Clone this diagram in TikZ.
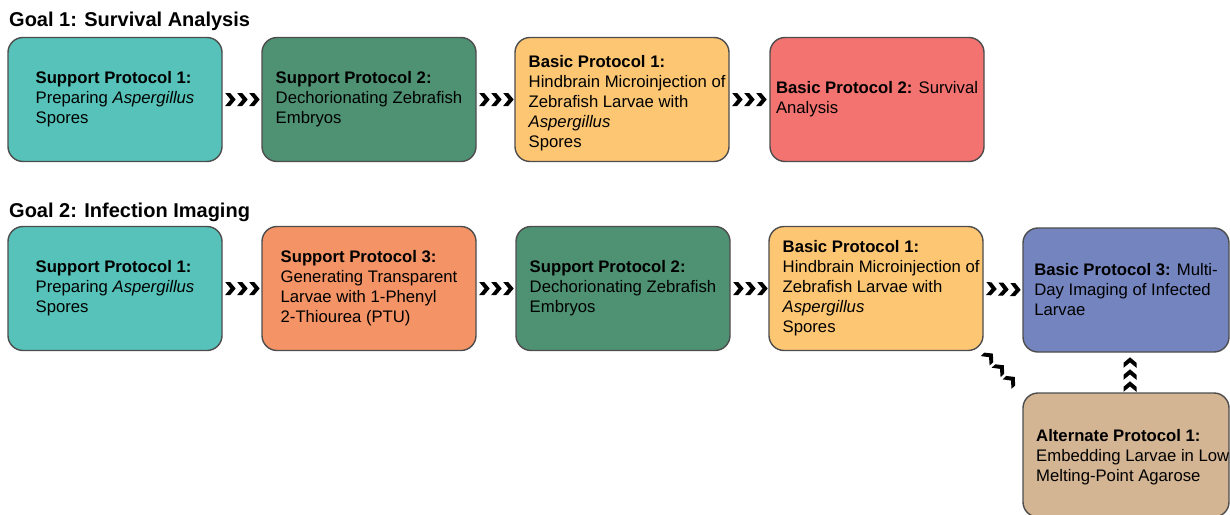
\documentclass[tikz,border=0pt]{standalone}
\usepackage{fontspec}
\setmainfont{Liberation Sans}
\usetikzlibrary{decorations.markings}
\definecolor{cteal}{HTML}{56C2B9}
\definecolor{cgreen}{HTML}{4E9273}
\definecolor{cyellow}{HTML}{FCC673}
\definecolor{cred}{HTML}{F27370}
\definecolor{corange}{HTML}{F49365}
\definecolor{cblue}{HTML}{7384BF}
\definecolor{ctan}{HTML}{D3B493}
\definecolor{cborder}{HTML}{4D4D4D}
\newcommand\chevshape{\fill[black] (-5.5pt,6.5pt) -- (-0.5pt,6.5pt) -- (5pt,0pt) -- (-0.5pt,-6.5pt) -- (-5.5pt,-6.5pt) -- (-0.2pt,0pt) -- cycle;}
\newcommand\chevshapeside{\fill[black,rotate=90] (-5.5pt,6.5pt) -- (-0.5pt,6.5pt) -- (5pt,0pt) -- (-0.5pt,-6.5pt) -- (-5.5pt,-6.5pt) -- (-0.2pt,0pt) -- cycle;}
\tikzset{
  box/.style={draw=cborder, line width=1.4pt, rounded corners=15pt,
    minimum height=124pt, inner sep=4pt, align=left,
    font=\fontsize{16.7}{20}\selectfont},
  wbox/.style={box, minimum width=214pt},
  title/.style={anchor=base west, inner sep=0pt, font=\fontsize{20}{24}\selectfont\bfseries},
  lbl/.style={inner sep=0pt, align=left, font=\fontsize{16.7}{20}\selectfont},
  chev/.style={decoration={markings,
      mark=at position 8pt with {\chevshape},
      mark=at position 20pt with {\chevshape},
      mark=at position 32pt with {\chevshape}}, postaction=decorate},
  chevd/.style={decoration={markings,
      mark=at position 8pt with {\chevshapeside},
      mark=at position 24pt with {\chevshapeside},
      mark=at position 40pt with {\chevshapeside}}, postaction=decorate},
  chevu/.style={decoration={markings,
      mark=at position 6pt with {\chevshape},
      mark=at position 18pt with {\chevshape},
      mark=at position 30pt with {\chevshape}}, postaction=decorate},
}
\begin{document}
\begin{tikzpicture}[x=1pt,y=-1pt]
\useasboundingbox (0,0) rectangle (1230,514);
\clip (0,0) rectangle (1230,514);
\fill[white] (0,0) rectangle (1230,514);

% Goal 1
\node[title] (g1) at (9,27) {Goal 1: Survival Analysis};
\node[wbox, fill=cteal] (sp1a) at (115,99.5) {\textbf{Support Protocol 1:}\\Preparing \textit{Aspergillus}\\Spores};
\node[wbox, fill=cgreen] (sp2a) at (369,99.5) {\textbf{Support Protocol 2:}\\Dechorionating Zebrafish\\Embryos};
\node[wbox, fill=cyellow] (bp1a) at (622,99.5) {};
\node[lbl, anchor=west] (bp1at) at (528.5,103.5) {\textbf{Basic Protocol 1:}\\Hindbrain Microinjection of\\Zebrafish Larvae with\\\textit{Aspergillus}\\Spores};
\node[wbox, fill=cred] (bp2a) at (877,99.5) {\textbf{Basic Protocol 2:} Survival\\Analysis};

\path[chev] (sp1a.east) -- (sp2a.west);
\path[chev] (sp2a.east) -- (bp1a.west);
\path[chev] (bp1a.east) -- (bp2a.west);

% Goal 2
\node[title] (g2) at (9,217) {Goal 2: Infection Imaging};
\node[wbox, fill=cteal] (sp1b) at (115,288.5) {\textbf{Support Protocol 1:}\\Preparing \textit{Aspergillus}\\Spores};
\node[wbox, fill=corange] (sp3b) at (369,288.5) {\textbf{Support Protocol 3:}\\Generating Transparent\\Larvae with 1-Phenyl\\2-Thiourea (PTU)};
\node[wbox, fill=cgreen] (sp2b) at (623,288.5) {\textbf{Support Protocol 2:}\\Dechorionating Zebrafish\\Embryos};
\node[wbox, fill=cyellow] (bp1b) at (876,288.5) {};
\node[lbl, anchor=west] (bp1bt) at (782.5,288) {\textbf{Basic Protocol 1:}\\Hindbrain Microinjection of\\Zebrafish Larvae with\\\textit{Aspergillus}\\Spores};
\node[box, minimum width=206pt, fill=cblue] (bp3b) at (1126,290) {\textbf{Basic Protocol 3:} Multi-\\Day Imaging of Infected\\Larvae};
\node[box, minimum width=206pt, fill=ctan] (ap1) at (1126,455) {};
\node[lbl, anchor=west] (ap1t) at (1036,457) {\textbf{Alternate Protocol 1:}\\Embedding Larvae in Low-\\Melting-Point Agarose};

\path[chev] (sp1b.east) -- (sp3b.west);
\path[chev] (sp3b.east) -- (sp2b.west);
\path[chev] (sp2b.east) -- (bp1b.west);
\path[chev] (bp1b.east) -- (bp3b.west);
\path[chevd] (bp1b.south east) -- (ap1.north west);
\path[chevu] ([xshift=4pt]ap1.north) -- ([xshift=4pt]bp3b.south);
\end{tikzpicture}
\end{document}
